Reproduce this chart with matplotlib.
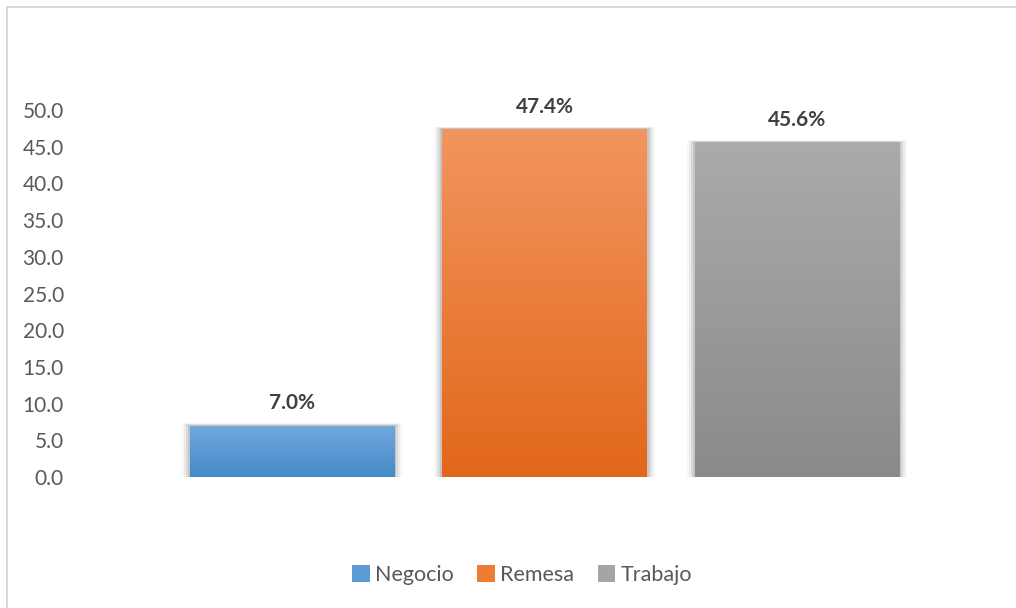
import matplotlib
matplotlib.use("Agg")
import matplotlib.pyplot as plt
import numpy as np
from matplotlib.patches import Rectangle, Patch
from matplotlib.colors import LinearSegmentedColormap

categories = ["Negocio", "Remesa", "Trabajo"]
values = [7.0, 47.4, 45.6]
labels = ["7.0%", "47.4%", "45.6%"]
yticks = [0, 5, 10, 15, 20, 25, 30, 35, 40, 45, 50]
top_colors = ["#72A9DE", "#F2955F", "#ABABAB"]
bottom_colors = ["#4589C8", "#E2671A", "#8A8A8A"]
base_colors = ["#5B9BD5", "#ED7D31", "#A5A5A5"]

plt.rcParams['font.family'] = ['Lato', 'DejaVu Sans']

W, H = 1016, 608
fig = plt.figure(figsize=(W / 100, H / 100), dpi=100)

L, R, B, T = 75, 990, 477, 110
ax = fig.add_axes([L / W, (H - B) / H, (R - L) / W, (B - T) / H])
ax.patch.set_visible(False)
ppu = (797 - 292) / 2

width = 0.81
x = np.arange(len(categories))
for i, v in enumerate(values):
    for k, a in enumerate([0.03, 0.05, 0.07, 0.09]):
        ext = (4 - k) * 0.008
        ax.add_patch(Rectangle((x[i] - width / 2 - ext, 0), width + 2 * ext, v + (4 - k) * 0.08,
                               facecolor="#000000", alpha=a, edgecolor="none", zorder=1))
    bar = ax.bar(x[i], v, width=width, color=base_colors[i], zorder=2)[0]
    cmap = LinearSegmentedColormap.from_list("g", [bottom_colors[i], top_colors[i]])
    grad = np.linspace(0, 1, 256).reshape(-1, 1)
    im = ax.imshow(grad, cmap=cmap, aspect="auto", origin="lower",
                   extent=(x[i] - width / 2, x[i] + width / 2, 0, v), zorder=3)
    im.set_clip_path(bar)
    ax.text(x[i], v + 1.7, labels[i], ha="center", va="bottom", fontsize=15,
            fontweight="bold", color="#404040", clip_on=False)

ax.set_xlim((L - 292) / ppu, (R - 292) / ppu)
ax.set_ylim(0, 50)
ax.set_yticks(yticks)
ax.set_yticklabels([f"{t:.1f}" for t in yticks], fontsize=15, color="#595959")
ax.tick_params(axis="y", length=0, pad=8)
ax.set_xticks([])
for s in ax.spines.values():
    s.set_visible(False)

# chart border (top and left only visible), drawn as thin filled strips
fig.add_artist(Rectangle((6 / W, 0), 2 / W, (H - 6) / H, transform=fig.transFigure,
                         facecolor="#D9D9D9", edgecolor="none", linewidth=0))
fig.add_artist(Rectangle((6 / W, (H - 8) / H), (W - 6) / W, 2 / H, transform=fig.transFigure,
                         facecolor="#D9D9D9", edgecolor="none", linewidth=0))

handles = [Patch(facecolor=c, edgecolor="none") for c in base_colors]
fig.legend(handles, categories, loc="center", bbox_to_anchor=(522 / W, (H - 575) / H),
           ncol=3, frameon=False, fontsize=15.5, handlelength=0.8, handleheight=0.8,
           handletextpad=0.25, columnspacing=1.1, labelcolor="#595959")

fig.savefig("out.png", dpi=100)
